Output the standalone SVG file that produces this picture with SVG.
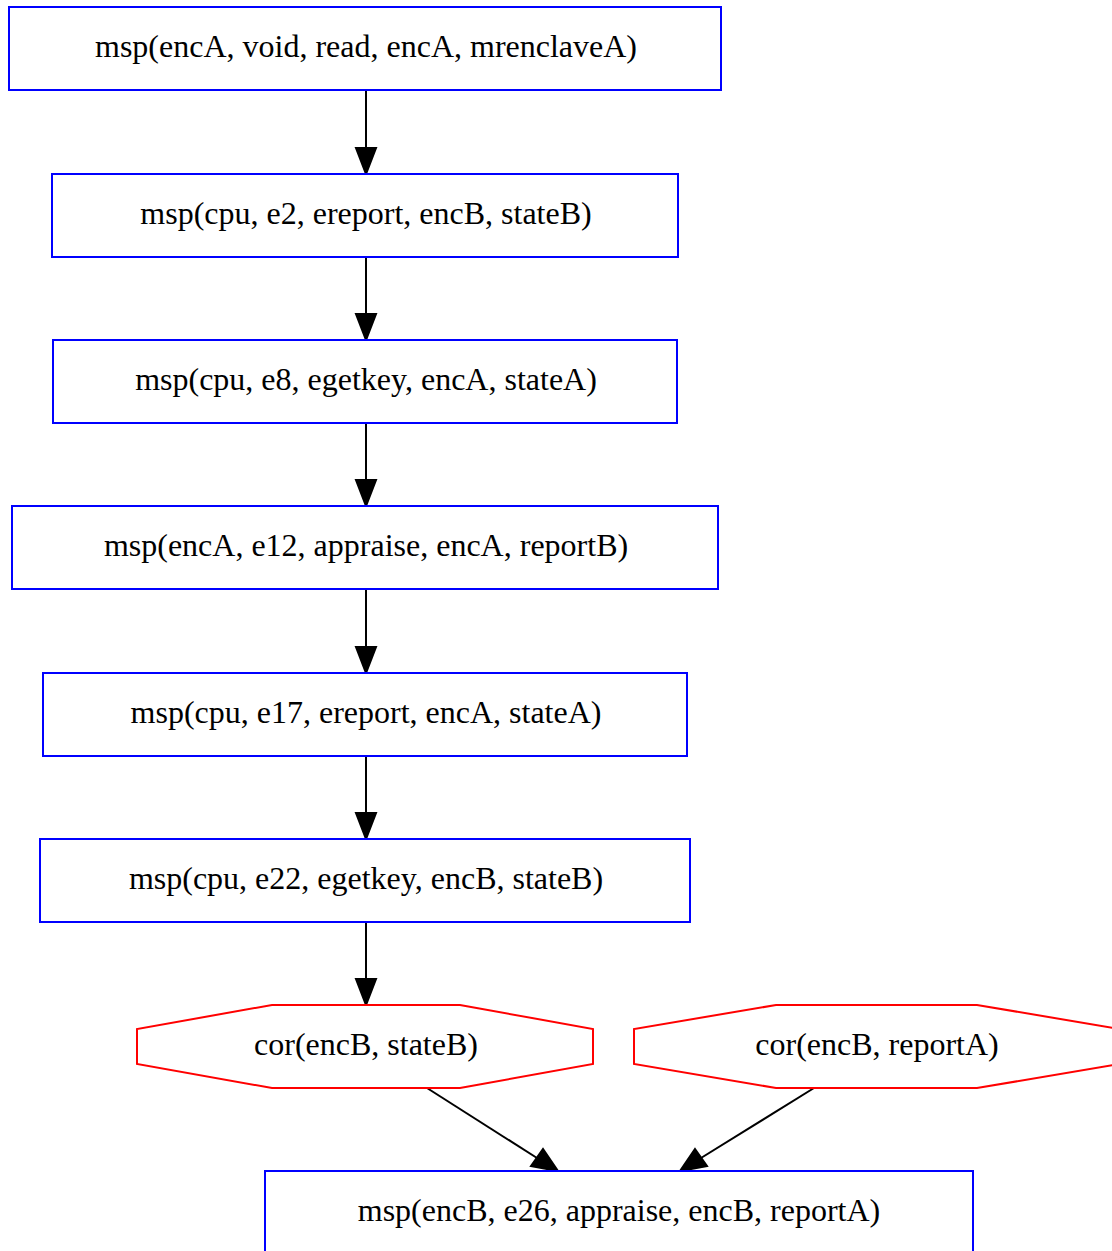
<svg xmlns="http://www.w3.org/2000/svg" width="1112" height="1251" viewBox="0 0 1112 1251">
<defs>
<style>
.box{fill:#fff;stroke:#0000ff;stroke-width:2}
.oct{fill:#fff;stroke:#ff0000;stroke-width:2}
.lbl{font-family:"Liberation Serif","Times New Roman",serif;font-size:32px;fill:#000;text-anchor:middle}
.edge{stroke:#000;stroke-width:2;fill:none}
.head{fill:#000;stroke:#000;stroke-width:2}
</style>
</defs>
<rect width="1112" height="1251" fill="#fff"/>
<g id="edges">
<line class="edge" x1="366" y1="90" x2="366" y2="148"/>
<polygon class="head" points="356,148 376,148 366,174"/>
<line class="edge" x1="366" y1="257" x2="366" y2="314"/>
<polygon class="head" points="356,314 376,314 366,340"/>
<line class="edge" x1="366" y1="423" x2="366" y2="480"/>
<polygon class="head" points="356,480 376,480 366,506"/>
<line class="edge" x1="366" y1="589" x2="366" y2="647"/>
<polygon class="head" points="356,647 376,647 366,673"/>
<line class="edge" x1="366" y1="756" x2="366" y2="813"/>
<polygon class="head" points="356,813 376,813 366,839"/>
<line class="edge" x1="366" y1="922" x2="366" y2="979"/>
<polygon class="head" points="356,979 376,979 366,1005"/>
<line class="edge" x1="427" y1="1088" x2="537" y2="1158"/>
<polygon class="head" points="531,1166 543,1149 558,1171"/>
<line class="edge" x1="814" y1="1088" x2="701" y2="1158"/>
<polygon class="head" points="695,1149 707,1166 680,1171"/>
</g>
<g id="n1"><rect class="box" x="9" y="7" width="712" height="83"/><text class="lbl" x="366" y="57">msp(encA, void, read, encA, mrenclaveA)</text></g>
<g id="n2"><rect class="box" x="52" y="174" width="626" height="83"/><text class="lbl" x="366" y="224">msp(cpu, e2, ereport, encB, stateB)</text></g>
<g id="n3"><rect class="box" x="53" y="340" width="624" height="83"/><text class="lbl" x="366" y="390">msp(cpu, e8, egetkey, encA, stateA)</text></g>
<g id="n4"><rect class="box" x="12" y="506" width="706" height="83"/><text class="lbl" x="366" y="556">msp(encA, e12, appraise, encA, reportB)</text></g>
<g id="n5"><rect class="box" x="43" y="673" width="644" height="83"/><text class="lbl" x="366" y="723">msp(cpu, e17, ereport, encA, stateA)</text></g>
<g id="n6"><rect class="box" x="40" y="839" width="650" height="83"/><text class="lbl" x="366" y="889">msp(cpu, e22, egetkey, encB, stateB)</text></g>
<g id="n7"><polygon class="oct" points="272,1005 460,1005 593,1029 593,1064 460,1088 272,1088 137,1064 137,1029"/><text class="lbl" x="366" y="1055">cor(encB, stateB)</text></g>
<g id="n8"><polygon class="oct" points="776,1005 977,1005 1120,1029 1120,1064 977,1088 776,1088 634,1064 634,1029"/><text class="lbl" x="877" y="1055">cor(encB, reportA)</text></g>
<g id="n9"><rect class="box" x="265" y="1171" width="708" height="83"/><text class="lbl" x="619" y="1221">msp(encB, e26, appraise, encB, reportA)</text></g>
</svg>
